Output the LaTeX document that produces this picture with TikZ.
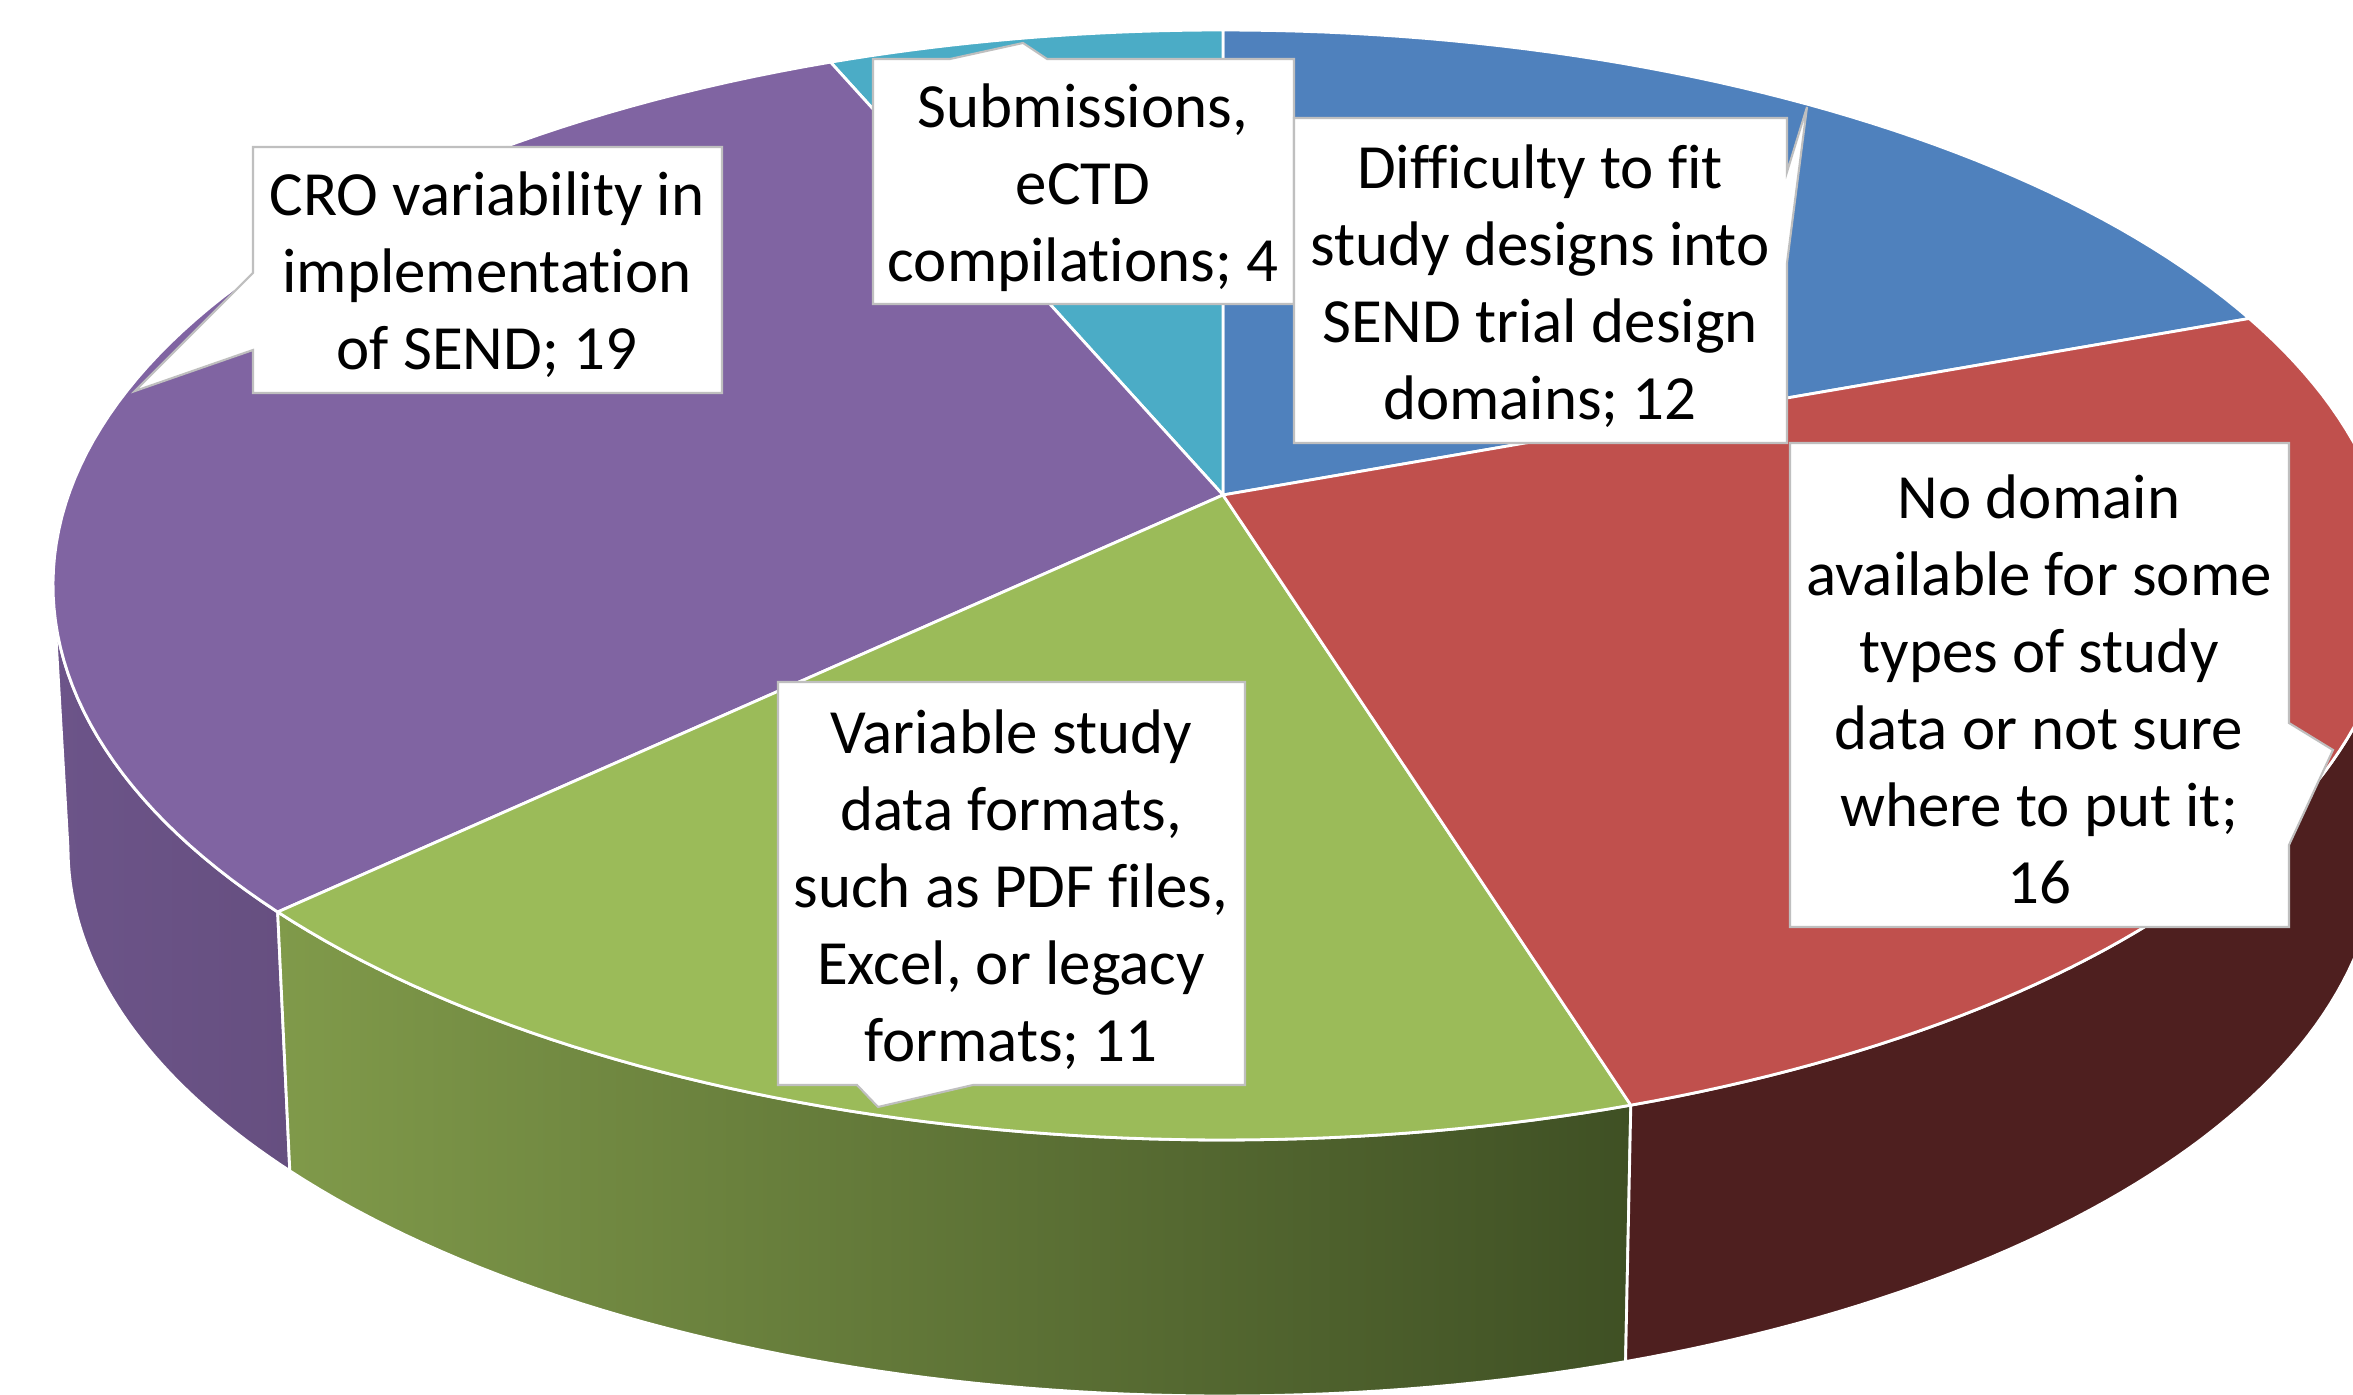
\documentclass[tikz,border=0pt]{standalone}
\usepackage{fontspec}
\setmainfont{Carlito}[RawFeature={-liga}]
\usetikzlibrary{positioning}

\definecolor{topblue}{HTML}{4F81BD}
\definecolor{topred}{HTML}{C0504D}
\definecolor{topgreen}{HTML}{9BBB59}
\definecolor{toppurple}{HTML}{8064A2}
\definecolor{topcyan}{HTML}{4BACC6}
\definecolor{sidered}{HTML}{4E1F1F}
\definecolor{sidegreenL}{HTML}{809A4A}
\definecolor{sidegreenR}{HTML}{3F5024}
\definecolor{sidepurpleL}{HTML}{6C5489}
\definecolor{sidepurpleR}{HTML}{664F80}

% top rim and bottom rim of the pie (pixel units)
\newcommand{\pcx}{1223}
\newcommand{\pcy}{585}
\newcommand{\prx}{1170}
\newcommand{\pry}{555}
\newcommand{\pby}{848}
\newcommand{\pbrx}{1155}
\newcommand{\pbry}{548}

\tikzset{
  slice/.style={draw=white, line width=0.8pt, line join=round},
  callout/.style={fill=white, draw=black!25, line width=0.6pt},
  lbl/.style={align=center, inner sep=0pt, font=\fontsize{17.9}{21.9}\selectfont},
}

\begin{document}
\begin{tikzpicture}[x=0.01cm, y=-0.01cm]
    \useasboundingbox (0,0) rectangle (2353,1395);
    \clip (0,0) rectangle (2353,1395);
    % Sides of the pie
    \shade[slice, left color=sidepurpleL, right color=sidepurpleR]
      plot[domain=180:216.1, samples=40] ({\pcx+\prx*cos(\x)},{\pcy-\pry*sin(\x)})
      -- plot[domain=216.1:180, samples=40] ({\pcx+\pbrx*cos(\x)},{\pby-\pbry*sin(\x)}) -- cycle;
    \shade[slice, left color=sidegreenL, right color=sidegreenR]
      plot[domain=216.1:290.4, samples=60] ({\pcx+\prx*cos(\x)},{\pcy-\pry*sin(\x)})
      -- plot[domain=290.4:216.1, samples=60] ({\pcx+\pbrx*cos(\x)},{\pby-\pbry*sin(\x)}) -- cycle;
    \fill[slice, fill=sidered]
      plot[domain=290.4:360, samples=60] ({\pcx+\prx*cos(\x)},{\pcy-\pry*sin(\x)})
      -- plot[domain=360:290.4, samples=60] ({\pcx+\pbrx*cos(\x)},{\pby-\pbry*sin(\x)}) -- cycle;
    % Top of the pie
    \coordinate (apex) at (1223,495);
    \filldraw[slice, fill=topblue] (apex)
      -- plot[domain=28.7:90, samples=50] ({\pcx+\prx*cos(\x)},{\pcy-\pry*sin(\x)}) -- cycle;
    \filldraw[slice, fill=topcyan] (apex)
      -- plot[domain=90:109.6, samples=20] ({\pcx+\prx*cos(\x)},{\pcy-\pry*sin(\x)}) -- cycle;
    \filldraw[slice, fill=toppurple] (apex)
      -- plot[domain=109.6:216.1, samples=80] ({\pcx+\prx*cos(\x)},{\pcy-\pry*sin(\x)}) -- cycle;
    \filldraw[slice, fill=topgreen] (apex)
      -- plot[domain=216.1:290.4, samples=60] ({\pcx+\prx*cos(\x)},{\pcy-\pry*sin(\x)}) -- cycle;
    \filldraw[slice, fill=topred] (apex)
      -- plot[domain=290.4:388.7, samples=80] ({\pcx+\prx*cos(\x)},{\pcy-\pry*sin(\x)}) -- cycle;
    % Callout boxes
    \filldraw[callout] (873,59) -- (950,59) -- (1023,43) -- (1047,59) -- (1294,59)
      -- (1294,304) -- (873,304) -- cycle;
    \filldraw[callout] (1294,118) -- (1787,118) -- (1787,172) -- (1807,107) -- (1787,263)
      -- (1787,443) -- (1294,443) -- cycle;
    \filldraw[callout] (253,147) -- (722,147) -- (722,393) -- (253,393) -- (253,350)
      -- (135,391) -- (253,273) -- cycle;
    \filldraw[callout] (778,682) -- (1245,682) -- (1245,1085) -- (973,1085) -- (878,1107)
      -- (857,1085) -- (778,1085) -- cycle;
    \filldraw[callout] (1790,443) -- (2289,443) -- (2289,723) -- (2333,750) -- (2289,845)
      -- (2289,927) -- (1790,927) -- cycle;
    % Labels
    \node[lbl] (sub) at (1083,188) {Submissions,\\eCTD\\compilations; 4};
    \node[lbl] (diff) at (1540,286) {Difficulty to fit\\study designs into\\SEND trial design\\domains; 12};
    \node[lbl] (cro) at (487,275) {CRO variability in\\implementation\\of SEND; 19};
    \node[lbl] (var) at (1011,890) {Variable study\\data formats,\\such as PDF files,\\Excel, or legacy\\formats; 11};
    \node[lbl] (nodom) at (2039,689) {No domain\\available for some\\types of study\\data or not sure\\where to put it;\\16};
\end{tikzpicture}
\end{document}
